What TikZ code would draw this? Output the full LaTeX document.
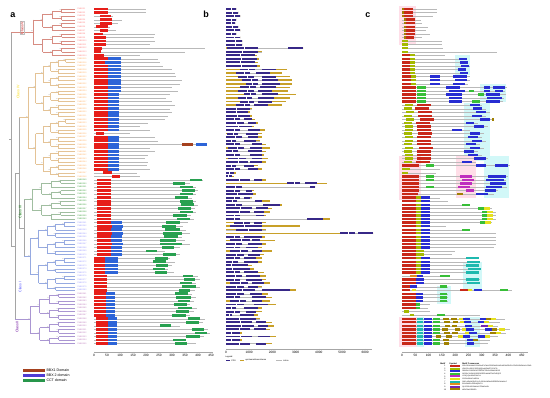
\documentclass[tikz,border=0pt]{standalone}
\usepackage{fontspec}
\setmainfont{Liberation Sans}
\setsansfont{Liberation Sans}
\definecolor{bbxone}{RGB}{230,30,25}
\definecolor{bbxtwo}{RGB}{45,100,215}
\definecolor{cctg}{RGB}{40,160,80}
\definecolor{lgone}{RGB}{165,65,30}
\definecolor{lgtwo}{RGB}{80,60,210}
\definecolor{lgthree}{RGB}{40,150,75}
\definecolor{cdsc}{RGB}{55,40,135}
\definecolor{utrc}{RGB}{200,160,40}
\definecolor{trVc}{RGB}{215,140,130}
\definecolor{trIVc}{RGB}{228,195,150}
\definecolor{trIIIc}{RGB}{160,190,160}
\definecolor{trIc}{RGB}{150,170,225}
\definecolor{trIIc}{RGB}{170,150,210}
\definecolor{bbc}{RGB}{165,165,165}
\definecolor{mo1}{RGB}{200,40,25}
\definecolor{mo2}{RGB}{165,185,0}
\definecolor{mo3}{RGB}{40,45,210}
\definecolor{mo4}{RGB}{55,190,55}
\definecolor{mo5}{RGB}{190,45,190}
\definecolor{mo6}{RGB}{230,225,30}
\definecolor{mo7}{RGB}{30,185,175}
\definecolor{mo8}{RGB}{225,140,30}
\definecolor{mo9}{RGB}{120,40,175}
\definecolor{mo10}{RGB}{160,128,0}
\definecolor{bandp}{RGB}{255,222,232}
\definecolor{bandc}{RGB}{210,248,248}
\tikzset{
  gline/.style={draw=gray!55, line width=0.35pt},
  trV/.style={draw=trVc, line width=0.35pt},
  trIV/.style={draw=trIVc, line width=0.35pt},
  trIII/.style={draw=trIIIc, line width=0.35pt},
  trI/.style={draw=trIc, line width=0.35pt},
  trII/.style={draw=trIIc, line width=0.35pt},
  trbb/.style={draw=bbc, line width=0.35pt},
  boot/.style={font=\fontsize{1.4}{1.6}\selectfont, text=gray!80, inner sep=0.1pt, anchor=south east},
  leaf/.style={font=\fontsize{2.1}{2.5}\selectfont, inner sep=0.2pt, anchor=west},
  axlab/.style={font=\fontsize{3.2}{3.6}\selectfont, inner sep=0.4pt, anchor=north},
  axline/.style={draw=gray!70, line width=0.35pt},
  panlab/.style={font=\bfseries\fontsize{9}{10}\selectfont, inner sep=0pt},
  classlab/.style={font=\fontsize{3.6}{4}\selectfont, rotate=90, inner sep=0.4pt},
  lgtext/.style={font=\fontsize{3.6}{4}\selectfont, inner sep=0.3pt, anchor=west},
  tinytext/.style={font=\fontsize{2.1}{2.4}\selectfont, inner sep=0.2pt, anchor=west},
  motiftext/.style={font=\fontsize{1.75}{2}\selectfont, inner sep=0.1pt, anchor=west}
}
\newcommand\cladeDraw[5]{%
  \begingroup
  \edef\ca{#1}\edef\cb{#2}\edef\cx{#3}\edef\cdx{#4}\edef\cst{#5}%
  \pgfmathtruncatemacro\cm{floor((\ca+\cb)/2)}%
  \pgfmathtruncatemacro\cmm{\cm+1}%
  \pgfmathsetmacro\yA{9+3.56*(\ca+\cm)/2}%
  \pgfmathsetmacro\yB{9+3.56*(\cmm+\cb)/2}%
  \pgfmathsetmacro\nx{\cx+\cdx}%
  \pgfmathtruncatemacro\bsv{mod(\ca*37+\cb*11,60)+40}%
  \draw[\cst] (\cx,\yA) -- (\cx,\yB);
  \node[boot] (bs-\ca-\cb) at (\cx,{(\yA+\yB)/2}) {\bsv};
  \ifnum\ca=\cm
    \draw[\cst] (\cx,\yA) -- (75,\yA);
  \else
    \draw[\cst] (\cx,\yA) -- (\nx,\yA);
    \cladeDraw{\ca}{\cm}{\nx}{\cdx}{\cst}%
  \fi
  \ifnum\cmm=\cb
    \draw[\cst] (\cx,\yB) -- (75,\yB);
  \else
    \draw[\cst] (\cx,\yB) -- (\nx,\yB);
    \cladeDraw{\cmm}{\cb}{\nx}{\cdx}{\cst}%
  \fi
  \endgroup}
\begin{document}
\begin{tikzpicture}[x=1pt,y=-1pt]
\useasboundingbox (0,0) rectangle (550,398);
\fill[white] (0,0) rectangle (550,398);

% ---------------- panel labels
\node[panlab] (la) at (13,15) {a};
\node[panlab] (lb) at (206,14) {b};
\node[panlab] (lc) at (368,15) {c};

% ---------------- tree (panel a)
\cladeDraw{0}{13}{33}{9.5}{trV}
\cladeDraw{14}{47}{28}{7.5}{trIV}
\cladeDraw{48}{59}{32}{9.5}{trIII}
\cladeDraw{60}{79}{30}{8.5}{trI}
\cladeDraw{80}{94}{30}{9.5}{trII}
\pgfmathsetmacro\cV{9+3.56*6.5}
\pgfmathsetmacro\cIV{9+3.56*30.5}
\pgfmathsetmacro\cIII{9+3.56*53.5}
\pgfmathsetmacro\cI{9+3.56*69.5}
\pgfmathsetmacro\cII{9+3.56*87}
\pgfmathsetmacro\cC{(\cIII+\cI)/2}
\pgfmathsetmacro\cB{(\cIV+\cC)/2}
\pgfmathsetmacro\cA{(\cB+\cII)/2}
\draw[trbb] (24,\cIII) -- (24,\cI);
\draw[trIII] (24,\cIII) -- (32,\cIII);
\draw[trI] (24,\cI) -- (30,\cI);
\draw[trbb] (19,\cIV) -- (19,\cC) (19,\cC) -- (24,\cC);
\draw[trIV] (19,\cIV) -- (28,\cIV);
\draw[trbb] (15,\cB) -- (15,\cII) (15,\cB) -- (19,\cB);
\draw[trII] (15,\cII) -- (30,\cII);
\draw[trbb] (11,\cV) -- (11,\cA) (11,\cA) -- (15,\cA) (9,{(\cV+\cA)/2}) -- (11,{(\cV+\cA)/2});
\draw[trV] (11,\cV) -- (33,\cV);
\node[classlab, text=red!75!black, draw=gray!50, line width=0.2pt] (clV) at (22,28) {Class V};
\node[classlab, text=yellow!80!orange] (clIV) at (18,92) {Class IV};
\node[classlab, text=green!45!black] (clIII) at (20,212) {Class III};
\node[classlab, text=blue!70!white] (clI) at (20,287) {Class I};
\node[classlab, text=violet!80!blue] (clII) at (17,327) {Class II};

% leaf labels
\foreach \i in {0,...,94}{
  \pgfmathsetmacro\yy{9+3.56*\i}
  \pgfmathtruncatemacro\nn{\i+1}
  \ifnum\i<14 \def\lc{red!45}\else\ifnum\i<48 \def\lc{orange!55}\else\ifnum\i<60 \def\lc{green!35!gray}\else\ifnum\i<80 \def\lc{blue!35}\else\def\lc{violet!45}\fi\fi\fi\fi
  \node[leaf, text=\lc] (leaf\i) at (77,\yy) {PbBBX\nn};
}

% ---------------- panel a domain bars
\foreach \pA/\pB/\pC/\pD/\pE/\pF [count=\i from 0] in {
94/108/0/146/0/0,94/108/0/146/0/0,100/111/0/113/0/0,100/112/0/122/0/0,100/112/0/118/0/0,
96/108/0/110/0/0,100/108/0/116/0/0,94/103/0/155/0/0,94/106/0/154/0/0,94/106/0/155/0/0,
94/106/0/150/0/0,94/102/0/205/0/0,94/101/0/185/0/0,94/104/0/140/0/0,
94/108/121/158/0/0,94/105/121/160/0/0,94/108/121/163/0/0,94/108/121/172/0/0,94/108/121/175/0/0,
94/108/121/176/0/0,94/108/121/182/0/0,94/108/121/180/0/0,94/108/121/172/0/0,94/108/121/178/0/0,
94/108/119/170/0/0,94/108/119/166/0/0,94/108/119/172/0/0,94/108/119/175/0/0,94/108/119/170/0/0,
94/108/119/172/0/0,94/108/119/168/0/0,94/108/119/165/0/0,94/108/119/148/0/0,94/108/119/140/0/0,
94/108/119/150/0/0,96/104/0/130/0/0,94/108/119/155/0/0,94/108/119/158/0/0,94/108/119/207/0/0,
94/108/119/150/0/0,94/108/119/155/0/0,94/108/119/148/0/0,94/108/119/145/0/0,94/108/119/148/0/0,
94/108/119/147/0/0,94/108/119/150/0/0,103/112/0/137/0/0,112/120/0/140/0/0,
97/111/0/203/190/202,97/111/0/190/173/185,97/111/0/196/180/193,97/111/0/198/182/195,
97/111/0/196/180/193,97/111/0/192/175/188,97/111/0/196/180/193,97/111/0/198/181/194,
97/111/0/195/178/191,97/111/0/196/180/193,97/111/0/191/173/187,97/111/0/194/177/190,
97/111/122/188/166/180,97/112/123/183/162/176,97/111/122/186/165/180,97/112/123/190/163/182,
97/111/122/182/164/178,97/111/122/185/160/176,97/112/123/190/160/182,97/111/122/180/162/174,
97/111/122/165/146/157,97/111/122/180/163/176,94/105/118/170/155/168,94/105/118/175/153/166,
94/105/118/172/156/168,94/105/118/168/153/165,94/105/118/174/155/167,94/107/0/198/183/193,
94/107/0/200/184/195,94/107/0/196/180/192,94/107/0/200/182/196,94/107/0/195/179/190,
94/106/115/192/175/188,94/106/115/196/176/191,94/106/115/194/178/190,94/106/115/190/174/187,
94/106/115/197/178/192,94/106/115/194/176/189,94/106/115/190/172/186,96/108/117/205/188/200,
96/108/117/203/186/199,96/108/117/180/160/171,96/108/117/208/192/204,96/108/117/210/195/207,
96/108/117/204/186/200,96/108/117/180/173/186,96/108/117/196/175/187}{
  \pgfmathsetmacro\yy{9+3.56*\i}
  \draw[gline] (94,\yy) -- (\pD,\yy);
  \fill[bbxone] (\pA,\yy-1.35) rectangle (\pB,\yy+1.35);
  \ifnum\pC>0 \fill[bbxtwo] (\pB,\yy-1.35) rectangle (\pC,\yy+1.35);\fi
  \ifnum\pE>0 \fill[cctg] (\pE,\yy-1.35) rectangle (\pF,\yy+1.35);\fi
}
\pgfmathsetmacro\yy{9+3.56*38}
\fill[lgone] (182,\yy-1.35) rectangle (193,\yy+1.35);
\fill[bbxtwo] (196,\yy-1.35) rectangle (207,\yy+1.35);

% axis a
\draw[axline] (94,352) -- (213,352);
\foreach \k in {0,...,9}{
  \pgfmathtruncatemacro\lab{50*\k}
  \draw[axline] (94+13*\k,352) -- (94+13*\k,353.3);
  \node[axlab] (axa\k) at (94+13*\k,353.8) {\lab};
}
% legend a
\fill[lgone] (23,368.6) rectangle (45,371.6);
\fill[lgtwo] (23,373.6) rectangle (45,376.6);
\fill[lgthree] (23,378.6) rectangle (45,381.6);
\node[lgtext] (lg1) at (46,370.1) {BBX1 Domain};
\node[lgtext] (lg2) at (46,375.1) {BBX 2 domain};
\node[lgtext] (lg3) at (46,380.1) {CCT domain};

% ---------------- panel b gene structures
\foreach \pA/\pB/\pC/\pD/\pE [count=\i from 0] in {
226/236/236/236/236,226/238/238/238/238,226/240/240/240/240,226/236/236/236/236,226/235/235/235/235,
226/238/238/238/238,226/240/240/240/240,226/236/236/236/236,226/240/240/240/240,226/242/242/242/242,
226/242/242/242/242,227/258/288/303/303,
226/255/255/258/262,226/252/252/255/257,226/254/254/257/259,226/252/252/255/258,226/254/254/257/260,
240/255/262/276/287,236/250/256/270/282,238/254/262/276/290,242/258/262/278/292,246/258/262/280/292,
240/256/260/276/290,238/254/258/272/288,244/256/262/278/296,238/252/258/274/290,240/254/258/272/286,
236/250/254/268/282,
226/245/245/250/252,226/244/244/248/250,226/246/246/250/252,226/240/244/252/255,226/244/248/256/258,
226/248/248/252/254,
226/240/248/260/265,227/238/246/258/262,226/242/248/258/262,226/236/244/256/260,226/240/252/262/266,
228/244/250/262/270,226/238/248/262/266,226/240/250/262/264,228/246/252/262/268,226/248/250/262/266,
226/236/244/254/258,226/240/248/258/262,
226/232/232/234/236,226/230/230/232/234,
226/250/254/262/266,287/300/305/317/327,226/242/310/315/315,
226/240/246/252/254,226/246/246/253/256,226/240/244/250/252,
226/237/255/262/270,226/242/263/280/282,226/252/256/268/272,226/250/254/264/270,
226/240/256/264/266,226/240/307/323/330,234/250/254/262/266,230/255/255/262/300,
236/258/258/262/266,340/355/358/373/373,
226/240/244/262/265,230/250/252/260/275,226/242/248/262/266,226/240/246/258/262,230/248/252/262/272,
226/244/248/260/264,226/240/244/256/262,226/238/244/258/262,226/236/236/248/252,226/238/238/250/254,
226/240/244/258/264,226/242/246/260/266,226/240/246/262/266,230/248/252/264/270,226/244/248/258/262,
226/255/262/290/296,
226/244/250/262/268,226/240/252/266/272,230/246/252/262/270,226/244/254/268/276,226/236/244/258/262,
226/240/246/256/262,
226/232/240/254/258,226/250/250/256/260,226/252/256/266/272,226/254/258/268/274,226/250/254/266/270,
226/236/236/240/242,226/252/258/270/276,226/236/236/240/242,226/250/256/266/272}{
  \pgfmathsetmacro\yy{9+3.56*\i}
  \draw[gline, line width=0.3pt] (226,\yy) -- (\pE,\yy);
  \fill[utrc] (226,\yy-0.75) rectangle (\pA,\yy+0.75);
  \fill[cdsc] (\pA,\yy-0.95) rectangle (\pB,\yy+0.95);
  \fill[cdsc] (\pC,\yy-0.95) rectangle (\pD,\yy+0.95);
  \fill[utrc] (\pD,\yy-0.75) rectangle (\pE,\yy+0.75);
  \pgfmathsetmacro\gp{\pA+0.55*(\pB-\pA)}
  \draw[white, line width=0.35pt] (\gp,\yy-1) -- (\gp,\yy+1);
}
% axis b
\draw[axline] (226,349) -- (372,349);
\foreach \k in {0,...,6}{
  \pgfmathtruncatemacro\lab{1000*\k}
  \draw[axline] (226+23.2*\k,349) -- (226+23.2*\k,350.3);
  \node[axlab] (axb\k) at (226+23.2*\k,350.8) {\lab};
}
\node[tinytext] (bleg) at (225,356.5) {Legend:};
\fill[cdsc] (226,359.6) rectangle (230,361.2);
\node[tinytext] (blg1) at (231,360.4) {CDS};
\fill[utrc] (240,359.7) rectangle (244,361.1);
\node[tinytext] (blg2) at (245,360.4) {upstream/downstream};
\draw[gline] (276,360.4) -- (282,360.4);
\node[tinytext] (blg3) at (283,360.4) {intron};

% ---------------- panel c motifs
\fill[bandp] (399,6) rectangle (416,45);
\fill[bandc] (455,55) rectangle (470,75);
\fill[bandc] (480,84) rectangle (506,102);
\fill[bandc] (464,103) rectangle (490,161);
\fill[bandp] (399,156) rectangle (421,200);
\fill[bandp] (456,156) rectangle (476,198);
\fill[bandc] (484,156) rectangle (509,198);
\fill[bandc] (463,262) rectangle (482,290);
\fill[bandc] (437,286) rectangle (451,304);
\fill[bandp] (399,317) rectangle (417,347);
\fill[bandc] (417,317) rectangle (424,347);
\fill[bandc] (465,317) rectangle (480,347);
\foreach \len/\boxes [count=\i from 0] in {
437/{402/404/mo10,404/413/mo1},437/{402/404/mo10,404/413/mo1},433/{402/404/mo10,404/413/mo1},
421/{404/406/mo10,406/415/mo1},422/{404/406/mo10,406/415/mo1},428/{404/406/mo10,406/415/mo1},
426/{404/406/mo10,406/415/mo1},430/{404/406/mo10,406/415/mo1},422/{404/406/mo10,406/414/mo1},
442/{402/408/mo2},442/{402/408/mo2},443/{402/408/mo2},497/{402/408/mo2},
445/{402/410/mo1,410/415/mo2},466/{402/410/mo1,410/415/mo2,459/467/mo3},
468/{402/410/mo1,410/415/mo2,460/468/mo3},470/{402/410/mo1,410/415/mo2,461/469/mo3},
466/{402/410/mo1,410/415/mo2,458/466/mo3},468/{402/410/mo1,410/415/mo2,460/468/mo3},
470/{402/411/mo1,411/416/mo2,430/440/mo3,453/460/mo3,460/467/mo3},
470/{402/411/mo1,411/416/mo2,430/440/mo3,455/467/mo3},
468/{402/411/mo1,411/416/mo2,430/440/mo3,453/465/mo3},
507/{402/416/mo1,417/426/mo4,446/460/mo3,484/490/mo3,493/505/mo3},
505/{402/416/mo1,417/426/mo4,449/465/mo3,469/474/mo4,484/490/mo3,495/503/mo3},
506/{402/416/mo1,417/426/mo4,446/462/mo3,478/484/mo4,486/500/mo3},
504/{402/416/mo1,417/426/mo4,449/462/mo3,487/502/mo3},
503/{402/416/mo1,417/426/mo4,449/462/mo3,472/480/mo4,486/500/mo3},
482/{405/413/mo2,417/431/mo1,470/480/mo3},486/{404/412/mo2,415/429/mo1,473/482/mo3},
490/{406/414/mo2,418/432/mo1,476/486/mo3},486/{404/412/mo2,418/432/mo1,472/482/mo3},
494/{406/414/mo2,420/434/mo1,480/490/mo3,492/494/mo10},478/{404/412/mo2,416/430/mo1,466/474/mo3},
488/{405/413/mo2,417/431/mo1,474/484/mo3},470/{405/413/mo2,417/431/mo1,452/462/mo3},
484/{404/412/mo2,418/432/mo1,470/480/mo3},482/{405/413/mo2,417/431/mo1,468/478/mo3},
486/{405/413/mo2,417/431/mo1,472/482/mo3},480/{404/412/mo2,417/431/mo1,466/476/mo3},
484/{405/413/mo2,419/433/mo1,470/480/mo3},478/{404/412/mo2,417/431/mo1,464/474/mo3},
482/{405/413/mo2,417/431/mo1,468/478/mo3},488/{405/413/mo2,417/431/mo1,474/486/mo3},
476/{404/412/mo2,416/430/mo1,462/472/mo3},
510/{402/419/mo1,426/434/mo4,476/486/mo3,495/508/mo3},440/{402/410/mo2},436/{402/408/mo2},
508/{402/419/mo1,426/434/mo4,460/472/mo5,488/506/mo3},
506/{402/419/mo1,426/434/mo4,462/474/mo5,486/504/mo3},
505/{402/419/mo1,460/472/mo5,490/506/mo3},
507/{402/419/mo1,426/434/mo4,458/470/mo5,486/502/mo3},
498/{402/419/mo1,466/474/mo5,485/496/mo3},
494/{402/418/mo1,457/463/mo10,476/488/mo3},
440/{402/416/mo1,416/421/mo2,421/430/mo3},448/{402/416/mo1,416/421/mo2,421/430/mo3},
470/{402/416/mo1,416/421/mo2,421/430/mo3,462/470/mo4},
492/{402/416/mo1,416/421/mo2,421/430/mo3,478/484/mo4,484/490/mo6},
496/{402/416/mo1,416/421/mo2,421/430/mo3,482/487/mo4,487/493/mo6},
496/{402/416/mo1,416/421/mo2,421/430/mo3,482/487/mo4,487/493/mo6},
496/{402/416/mo1,416/421/mo2,421/430/mo3,482/487/mo4,487/493/mo6},
492/{402/416/mo1,416/421/mo2,421/430/mo3,480/485/mo4,485/491/mo6},
446/{402/416/mo1,416/421/mo2,421/430/mo3},
470/{402/416/mo1,416/421/mo2,421/430/mo3,462/470/mo4},
496/{402/416/mo1,416/421/mo2,421/430/mo3},496/{402/416/mo1,416/421/mo2,421/430/mo3},
496/{402/416/mo1,416/421/mo2,421/430/mo3},496/{402/416/mo1,416/421/mo2,421/430/mo3},
494/{402/416/mo1,416/421/mo2,421/430/mo3},
455/{402/416/mo1,416/424/mo2},452/{402/416/mo1,416/424/mo2},
479/{402/416/mo1,416/421/mo2,421/430/mo3,466/479/mo7},
480/{402/416/mo1,416/421/mo2,421/430/mo3,467/480/mo7},
479/{402/416/mo1,416/421/mo2,421/430/mo3,466/479/mo7},
481/{402/416/mo1,416/421/mo2,421/430/mo3,468/481/mo7},
479/{402/416/mo1,416/421/mo2,421/430/mo3,466/479/mo7},
449/{410/417/mo8,417/423/mo3,440/450/mo4},
480/{402/416/mo1,416/424/mo3,466/479/mo7},480/{402/416/mo1,416/424/mo3,467/480/mo7},
448/{402/410/mo1,410/417/mo3,440/447/mo4},
512/{402/410/mo1,412/416/mo6,460/468/mo1,468/472/mo6,474/482/mo3,500/508/mo4},
448/{402/416/mo1,416/423/mo3,440/447/mo4},448/{402/416/mo1,416/423/mo3,440/447/mo4},
448/{402/416/mo1,416/423/mo3,440/447/mo4},
430/{402/416/mo1,416/420/mo4},428/{402/416/mo1,416/420/mo4},
430/{404/409/mo2},480/{410/414/mo2,437/445/mo4},
505/{402/416/mo1,417/423/mo7,424/432/mo3,433/440/mo4,443/449/mo10,451/457/mo10,459/463/mo6,463/470/mo3,480/486/mo3,486/491/mo10,491/496/mo6},
500/{402/416/mo1,417/423/mo7,424/432/mo3,433/440/mo4,444/450/mo10,453/458/mo10,460/464/mo6,464/471/mo3,478/484/mo3,484/489/mo6},
498/{402/416/mo1,417/423/mo7,424/432/mo3,433/440/mo4,445/450/mo10,452/457/mo10,465/472/mo3,481/488/mo9,488/493/mo6},
510/{402/416/mo1,417/423/mo7,424/432/mo3,433/440/mo4,442/448/mo10,455/460/mo10,462/466/mo6,466/474/mo3,485/492/mo3,492/497/mo10,499/505/mo6},
506/{402/416/mo1,417/423/mo7,424/432/mo3,433/440/mo4,444/450/mo10,452/458/mo10,465/469/mo6,469/477/mo3,490/496/mo10,496/501/mo6},
498/{402/416/mo1,417/423/mo7,424/432/mo3,436/441/mo10,446/452/mo10,458/463/mo6,463/470/mo3,478/485/mo3,485/490/mo6},
490/{402/416/mo1,417/423/mo7,424/432/mo3,433/440/mo4,443/449/mo10,467/473/mo3,473/478/mo10},
488/{402/416/mo1,417/423/mo7,424/432/mo3,433/440/mo4,444/449/mo10,467/474/mo3}}{
  \pgfmathsetmacro\yy{9+3.56*\i}
  \draw[gline, line width=0.3pt] (402,\yy) -- (\len,\yy);
  \foreach \qa/\qb/\qc in \boxes {
    \fill[fill=\qc] (\qa,\yy-1.2) rectangle (\qb,\yy+1.2);
  }
}
% axis c
\draw[axline] (402,352) -- (528,352);
\foreach \k in {0,...,9}{
  \pgfmathtruncatemacro\lab{50*\k}
  \draw[axline] (402+13.3*\k,352) -- (402+13.3*\k,353.3);
  \node[axlab] (axc\k) at (402+13.3*\k,353.8) {\lab};
}
% motif legend
\node[tinytext, font=\bfseries\fontsize{2.1}{2.4}\selectfont] (mh1) at (440,363.5) {Motif};
\node[tinytext, font=\bfseries\fontsize{2.1}{2.4}\selectfont] (mh2) at (449,363.5) {Symbol};
\node[tinytext, font=\bfseries\fontsize{2.1}{2.4}\selectfont] (mh3) at (462,363.5) {Motif Consensus};
\foreach \k/\seq in {
1/CELCGGAAAVYCRADAAFLCWACDRRVHSANRLASRHERVPLCEVCGEAPAAVLCRAD,
2/VRLEDLLSSSPSSPQQQAAAEAVPTVPKFG,
3/REARVLRYREKRKTRKFEKTIRYASRKAYAESR,
4/GCDSKYVRKGSSSSDEEEPLMAMTRAPVEQPE,
5/YLRQLQLHRHPRHPLL,
6/CDIDIHSANPLARRH,
7/SNPLARKHQRVPVLPLSSSASAEAKGEEEEDGAAWLLP,
8/EVHSANPLARRHQRVPV,
9/QLSPSSHSSSAAAVKTEAADAGL,
10/WEVPAKGEGEEL}{
  \pgfmathsetmacro\yy{366+2.6*(\k-1)}
  \node[tinytext, font=\fontsize{1.9}{2.2}\selectfont, anchor=center] (mn\k) at (445,\yy) {\k};
  \fill[fill=mo\k] (450,\yy-1) rectangle (460,\yy+1);
  \node[motiftext] (ms\k) at (462,\yy) {\seq};
}
\end{tikzpicture}
\end{document}
